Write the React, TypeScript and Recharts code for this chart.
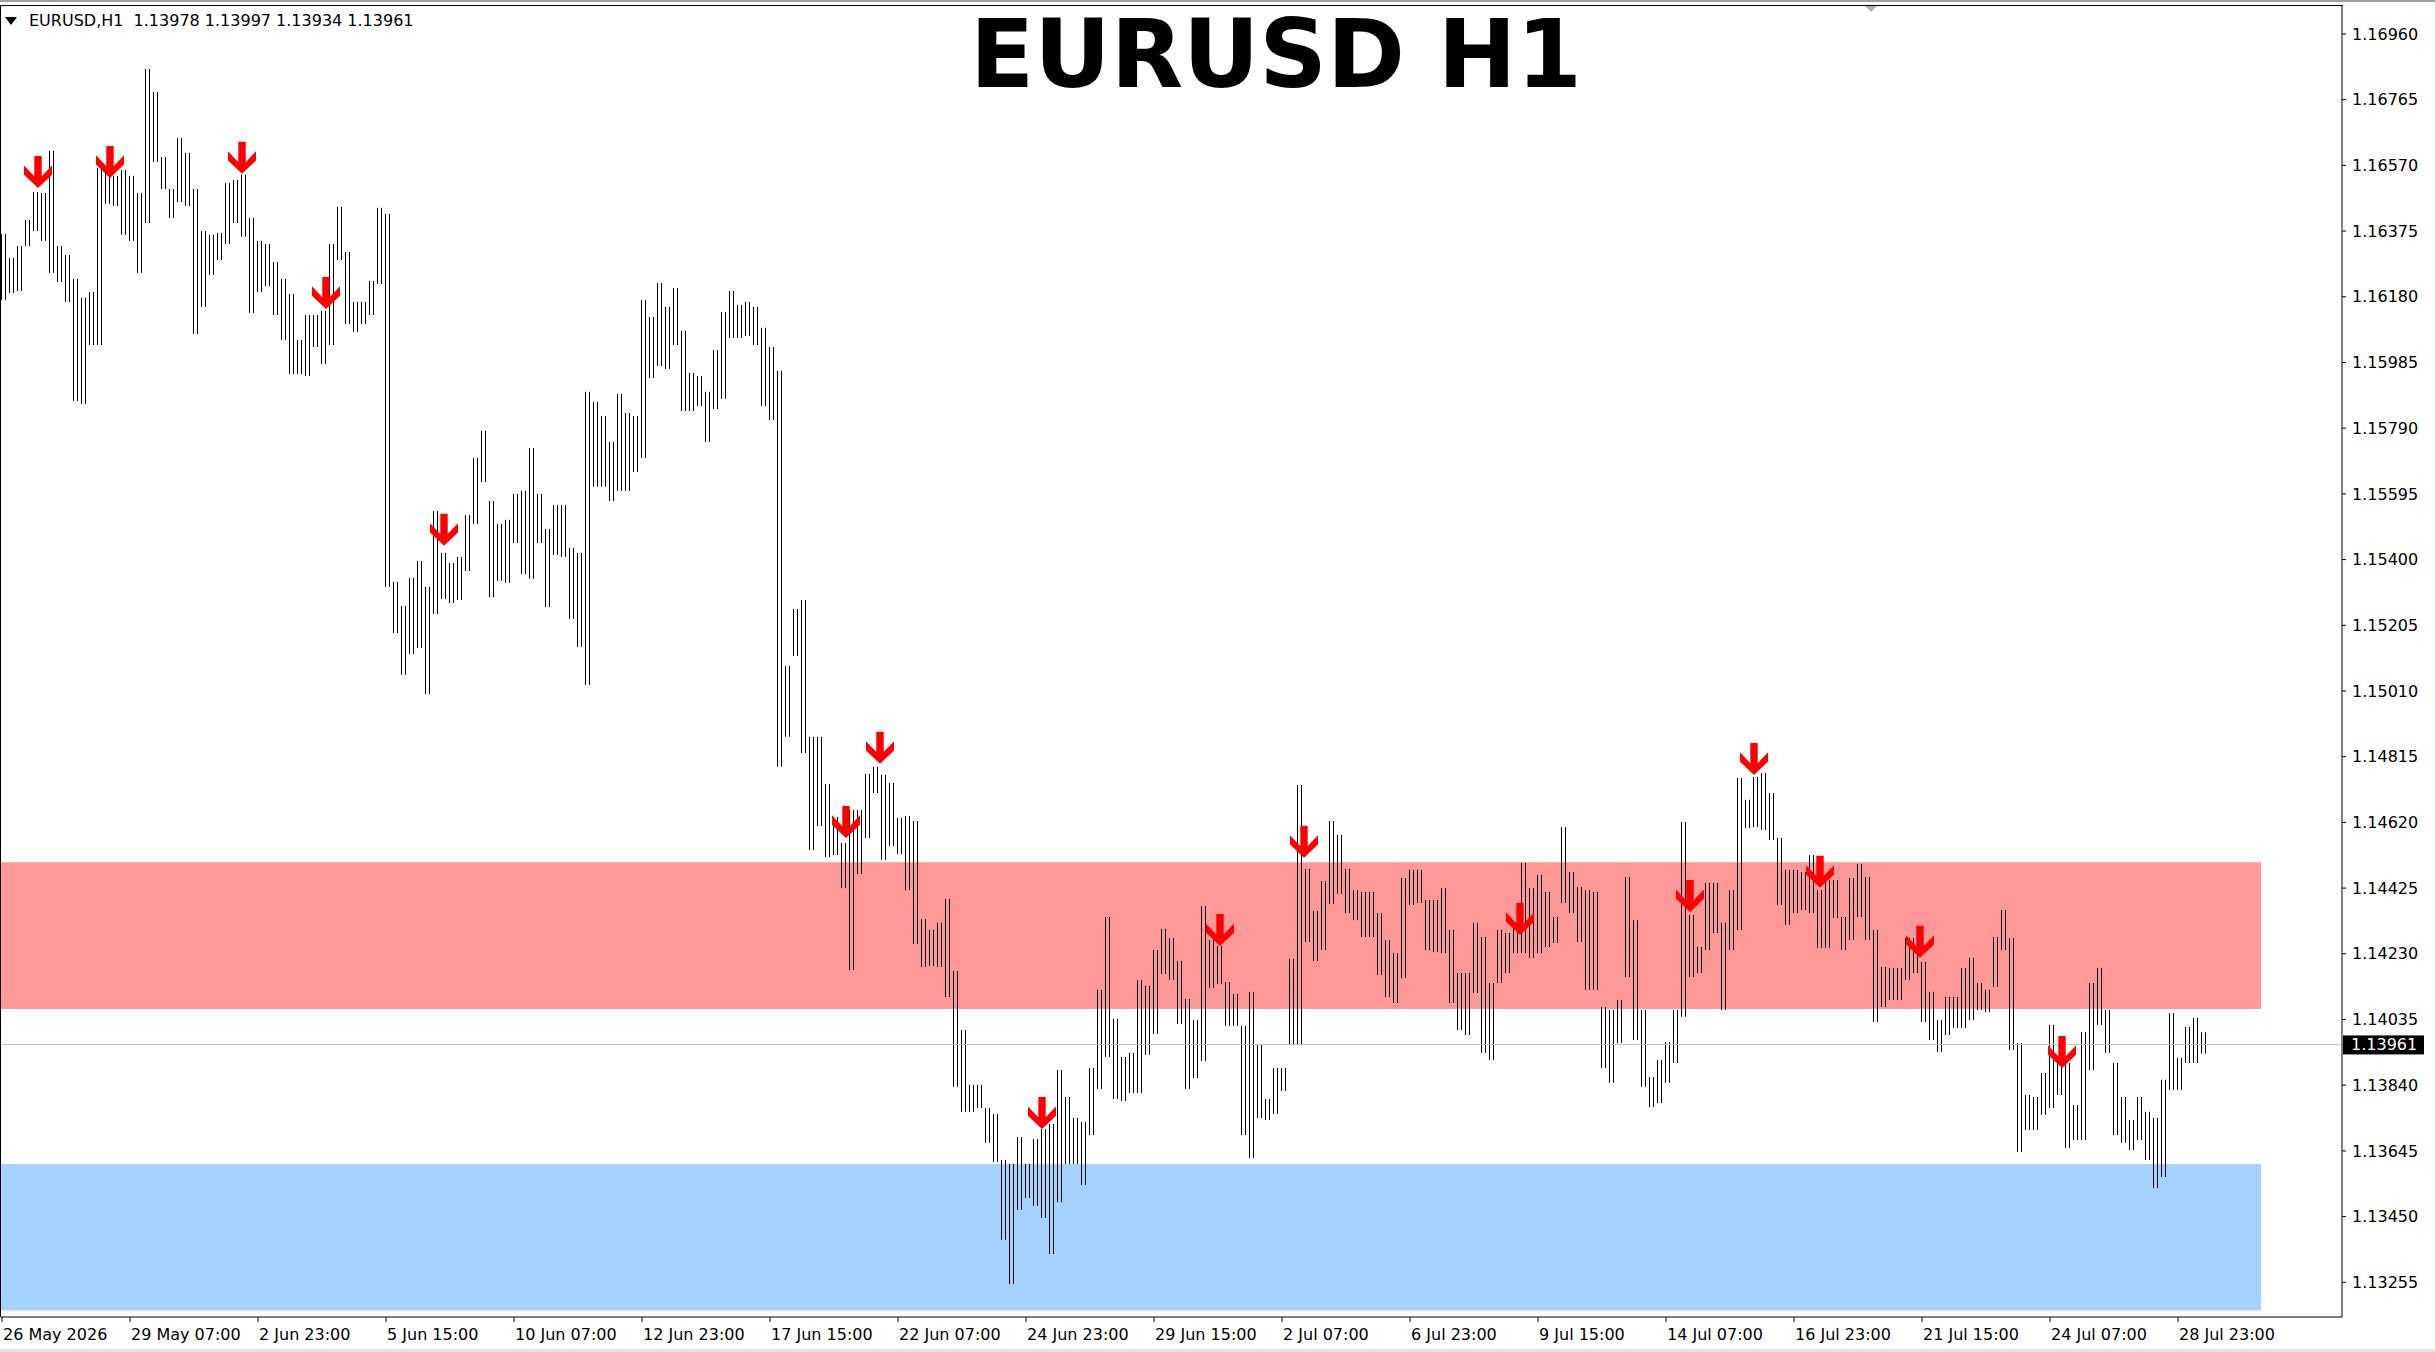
import React from 'react';
import { ComposedChart, Bar, Scatter, XAxis, YAxis, ReferenceArea, ReferenceLine } from 'recharts';

const highs = [
  1.16366, 1.16295, 1.16331, 1.16408, 1.16491, 1.16488, 1.16613, 1.16331, 1.16304, 1.16233,
  1.16177, 1.16194, 1.16562, 1.16556, 1.16539, 1.16556, 1.16539, 1.16488, 1.16856, 1.16788,
  1.16595, 1.16500, 1.16651, 1.16607, 1.16500, 1.16375, 1.16364, 1.16369, 1.16518, 1.16527,
  1.16542, 1.16414, 1.16346, 1.16337, 1.16283, 1.16233, 1.16188, 1.16052, 1.16126, 1.16126,
  1.16138, 1.16337, 1.16447, 1.16313, 1.16165, 1.16165, 1.16227, 1.16444, 1.16426, 1.15334,
  1.15262, 1.15345, 1.15396, 1.15319, 1.15544, 1.15420, 1.15390, 1.15408, 1.15532, 1.15702,
  1.15782, 1.15574, 1.15506, 1.15518, 1.15595, 1.15604, 1.15731, 1.15595, 1.15491, 1.15562,
  1.15562, 1.15435, 1.15420, 1.15898, 1.15868, 1.15826, 1.15749, 1.15892, 1.15835, 1.15826,
  1.16171, 1.16120, 1.16221, 1.16150, 1.16206, 1.16079, 1.15954, 1.15945, 1.15898, 1.16022,
  1.16135, 1.16197, 1.16156, 1.16165, 1.16150, 1.16088, 1.16031, 1.15960, 1.15084, 1.15253,
  1.15280, 1.14874, 1.14874, 1.14734, 1.14636, 1.14559, 1.14657, 1.14657, 1.14764, 1.14785,
  1.14761, 1.14737, 1.14633, 1.14639, 1.14624, 1.14333, 1.14301, 1.14322, 1.14393, 1.14179,
  1.14004, 1.13841, 1.13841, 1.13772, 1.13755, 1.13618, 1.13606, 1.13686, 1.13606, 1.13680,
  1.13710, 1.13725, 1.13885, 1.13805, 1.13743, 1.13731, 1.13891, 1.14123, 1.14339, 1.14037,
  1.13924, 1.13936, 1.14152, 1.14135, 1.14241, 1.14304, 1.14277, 1.14209, 1.14096, 1.14034,
  1.14372, 1.14271, 1.14253, 1.14146, 1.14111, 1.14016, 1.14117, 1.13959, 1.13799, 1.13891,
  1.13891, 1.14215, 1.14731, 1.14482, 1.14357, 1.14446, 1.14624, 1.14583, 1.14482, 1.14419,
  1.14414, 1.14414, 1.14351, 1.14271, 1.14232, 1.14455, 1.14479, 1.14479, 1.14390, 1.14390,
  1.14425, 1.14301, 1.14173, 1.14173, 1.14322, 1.14280, 1.14143, 1.14301, 1.14292, 1.14322,
  1.14500, 1.14425, 1.14464, 1.14414, 1.14339, 1.14606, 1.14473, 1.14428, 1.14419, 1.14414,
  1.14072, 1.14063, 1.14093, 1.14458, 1.14330, 1.14063, 1.13864, 1.13915, 1.13968, 1.14063,
  1.14621, 1.14345, 1.14250, 1.14440, 1.14440, 1.14322, 1.14419, 1.14752, 1.14687, 1.14755,
  1.14767, 1.14707, 1.14574, 1.14479, 1.14479, 1.14473, 1.14523, 1.14419, 1.14449, 1.14449,
  1.14339, 1.14455, 1.14497, 1.14458, 1.14301, 1.14191, 1.14188, 1.14188, 1.14277, 1.14277,
  1.14206, 1.14117, 1.14034, 1.14102, 1.14102, 1.14188, 1.14218, 1.14143, 1.14123, 1.14280,
  1.14360, 1.14277, 1.13965, 1.13811, 1.13805, 1.13876, 1.14019, 1.13909, 1.13906, 1.13781,
  1.13998, 1.14143, 1.14188, 1.14063, 1.13906, 1.13805, 1.13737, 1.13805, 1.13761, 1.13743,
  1.13856, 1.14054, 1.13921, 1.14013, 1.14040, 1.13997,
];

const lows = [
  1.16171, 1.16191, 1.16197, 1.16331, 1.16375, 1.16346, 1.16251, 1.16224, 1.16165, 1.15871,
  1.15862, 1.16037, 1.16037, 1.16456, 1.16450, 1.16364, 1.16346, 1.16251, 1.16399, 1.16580,
  1.16500, 1.16414, 1.16461, 1.16450, 1.16070, 1.16150, 1.16245, 1.16289, 1.16337, 1.16399,
  1.16358, 1.16132, 1.16194, 1.16212, 1.16126, 1.16052, 1.15951, 1.15951, 1.15945, 1.16031,
  1.15981, 1.16037, 1.16289, 1.16099, 1.16076, 1.16099, 1.16126, 1.16218, 1.15319, 1.15182,
  1.15058, 1.15120, 1.15138, 1.15001, 1.15239, 1.15283, 1.15271, 1.15280, 1.15366, 1.15506,
  1.15630, 1.15289, 1.15337, 1.15331, 1.15449, 1.15357, 1.15343, 1.15449, 1.15259, 1.15414,
  1.15408, 1.15224, 1.15141, 1.15028, 1.15616, 1.15616, 1.15574, 1.15604, 1.15604, 1.15660,
  1.15702, 1.15939, 1.15975, 1.15966, 1.16037, 1.15841, 1.15841, 1.15856, 1.15749, 1.15847,
  1.15877, 1.16058, 1.16058, 1.16064, 1.16037, 1.15856, 1.15814, 1.14785, 1.14874, 1.15114,
  1.14826, 1.14538, 1.14609, 1.14517, 1.14523, 1.14425, 1.14182, 1.14467, 1.14574, 1.14707,
  1.14509, 1.14550, 1.14526, 1.14419, 1.14259, 1.14191, 1.14194, 1.14191, 1.14102, 1.13835,
  1.13761, 1.13761, 1.13772, 1.13669, 1.13612, 1.13381, 1.13250, 1.13470, 1.13505, 1.13482,
  1.13446, 1.13339, 1.13493, 1.13606, 1.13606, 1.13544, 1.13692, 1.13829, 1.13924, 1.13799,
  1.13793, 1.13817, 1.13817, 1.13930, 1.13992, 1.14170, 1.14152, 1.14022, 1.13829, 1.13861,
  1.13912, 1.14129, 1.14140, 1.14016, 1.14016, 1.13692, 1.13624, 1.13743, 1.13737, 1.13755,
  1.13823, 1.13959, 1.13959, 1.14265, 1.14209, 1.14241, 1.14378, 1.14408, 1.14351, 1.14330,
  1.14280, 1.14280, 1.14167, 1.14102, 1.14084, 1.14158, 1.14375, 1.14381, 1.14241, 1.14235,
  1.14232, 1.14084, 1.14004, 1.13989, 1.14114, 1.13936, 1.13915, 1.14143, 1.14173, 1.14232,
  1.14232, 1.14218, 1.14232, 1.14250, 1.14262, 1.14381, 1.14351, 1.14265, 1.14123, 1.14123,
  1.13891, 1.13847, 1.13965, 1.14161, 1.13974, 1.13835, 1.13775, 1.13787, 1.13847, 1.13906,
  1.14043, 1.14161, 1.14173, 1.14241, 1.14292, 1.14063, 1.14241, 1.14301, 1.14603, 1.14606,
  1.14598, 1.14568, 1.14375, 1.14316, 1.14351, 1.14360, 1.14351, 1.14247, 1.14247, 1.14336,
  1.14241, 1.14271, 1.14339, 1.14271, 1.14028, 1.14072, 1.14093, 1.14093, 1.14152, 1.14173,
  1.14028, 1.13974, 1.13939, 1.13989, 1.14010, 1.14010, 1.14034, 1.14063, 1.14057, 1.14132,
  1.14241, 1.13945, 1.13642, 1.13707, 1.13707, 1.13752, 1.13772, 1.13811, 1.13654, 1.13677,
  1.13677, 1.13885, 1.14019, 1.13936, 1.13692, 1.13669, 1.13648, 1.13677, 1.13618, 1.13535,
  1.13568, 1.13826, 1.13826, 1.13906, 1.13906, 1.13934,
];

// Sell arrows: bar hour index and the high they sit above
const arrowHours = [18, 54, 120, 162, 221, 439, 422, 520, 609, 651, 759, 844, 876, 909, 959, 1030];
const arrowPrices = [1.16491, 1.16521, 1.16533, 1.16132, 1.15429, 1.14782, 1.14562, 1.13698,
  1.14241, 1.14503, 1.14274, 1.14342, 1.14749, 1.14414, 1.14206, 1.13879];

const timeLabels = ['26 May 2026', '29 May 07:00', '2 Jun 23:00', '5 Jun 15:00', '10 Jun 07:00',
  '12 Jun 23:00', '17 Jun 15:00', '22 Jun 07:00', '24 Jun 23:00', '29 Jun 15:00', '2 Jul 07:00',
  '6 Jul 23:00', '9 Jul 15:00', '14 Jul 07:00', '16 Jul 23:00', '21 Jul 15:00', '24 Jul 07:00',
  '28 Jul 23:00'];
const timeTickHours = [0, 64, 128, 192, 256, 320, 384, 448, 512, 576, 640, 704, 768, 832, 896, 960, 1024, 1088];

const priceTicks = [1.1696, 1.16765, 1.1657, 1.16375, 1.1618, 1.15985, 1.1579, 1.15595, 1.154,
  1.15205, 1.1501, 1.14815, 1.1462, 1.14425, 1.1423, 1.14035, 1.1384, 1.13645, 1.1345, 1.13255];

const ohlc = { open: 1.13978, high: 1.13997, low: 1.13934, close: 1.13961 };
const resistanceZone = [1.14066, 1.14502];
const supportZone = [1.13171, 1.13606];
const zoneEndHour = 1129.5;

const candles = highs.map((h, i) => ({ x: i * 4 + 1, range: [lows[i], h] }));
const arrows = arrowHours.map((hr, i) => ({ x: hr, y: arrowPrices[i] }));

const FONT = 'DejaVu Sans';

const XTick = (props: any) => {
  const { x, y, payload } = props;
  const idx = timeTickHours.indexOf(payload.value);
  return (
    <text x={x + 1} y={y} dy="0.71em" textAnchor="start" fontSize={16} fontFamily={FONT} fill="#000">
      {timeLabels[idx]}
    </text>
  );
};

// one sampled range drawn as thin hairline bars, like the terminal's bar chart
const HairBars = (props: any) => {
  const { x, y, width, height } = props;
  if (x == null || y == null) return null;
  const c = Math.round(x + width / 2);
  const h = Math.max(1, height);
  return (
    <g>
      {[-3, 1].map((dx) => (
        <rect key={dx} x={c + dx} y={y} width={1} height={h} fill="#000" />
      ))}
    </g>
  );
};

const ArrowShape = (props: any) => {
  const { cx, cy } = props;
  if (cx == null || cy == null) return null;
  const t = cy - 4;
  const pts = [
    [-3.7, -32], [3.7, -32], [3.7, -11.7], [14, -22.6], [14, -13.3], [0, 0],
    [-14, -13.3], [-14, -22.6], [-3.7, -11.7],
  ].map(([dx, dy]) => `${cx + dx},${t + dy}`).join(' ');
  return <polygon points={pts} fill="#ff0000" />;
};

const PriceTag = (props: any) => {
  const vb = props.viewBox || {};
  const x0 = (vb.x || 0) + (vb.width || 0) + 1;
  const y0 = vb.y || 0;
  return (
    <g>
      <rect x={x0} y={y0 - 9} width={81} height={19} fill="#000" />
      <text x={x0 + 8} y={y0} dy="0.355em" fontSize={16} fontFamily={FONT} fill="#fff">
        {ohlc.close.toFixed(5)}
      </text>
    </g>
  );
};

export default function App() {
  return (
    <div style={{ position: 'absolute', left: 0, top: 0, width: 2435, height: 1352, background: '#fff', overflow: 'hidden' }}>
      <div style={{ position: 'absolute', left: 0, top: 0, width: 2435, height: 2, background: '#a0a0a0' }} />
      <div style={{ position: 'absolute', left: 0, top: 1349, width: 2435, height: 3, background: '#e4e4e4' }} />
      <div style={{ position: 'absolute', left: 0, top: 0 }}>
        <ComposedChart width={2435} height={1352} data={candles} margin={{ top: 6, right: 0, bottom: 0, left: 1 }}>
          <XAxis
            type="number"
            dataKey="x"
            domain={[-0.5, 1170]}
            allowDataOverflow
            ticks={timeTickHours}
            interval={0}
            tick={<XTick />}
            tickSize={5}
            tickMargin={7}
            height={35}
            axisLine={{ stroke: '#000' }}
            tickLine={{ stroke: '#000' }}
          />
          <YAxis
            orientation="right"
            type="number"
            domain={[1.13152, 1.17043]}
            allowDataOverflow
            ticks={priceTicks}
            interval={0}
            tickFormatter={(v: number) => v.toFixed(5)}
            tick={{ fontSize: 16, fontFamily: FONT, fill: '#000' }}
            tickSize={4}
            tickMargin={6}
            width={93}
            axisLine={{ stroke: '#000' }}
            tickLine={{ stroke: '#000' }}
          />
          <ReferenceArea x1={-0.5} x2={zoneEndHour} y1={resistanceZone[0]} y2={resistanceZone[1]}
            fill="#ff9999" fillOpacity={1} stroke="none" ifOverflow="hidden" />
          <ReferenceArea x1={-0.5} x2={zoneEndHour} y1={supportZone[0]} y2={supportZone[1]}
            fill="#a6d2ff" fillOpacity={1} stroke="none" ifOverflow="hidden" />
          <ReferenceLine y={ohlc.close} stroke="#c0c0c0" strokeWidth={1} label={<PriceTag />} />
          <Bar dataKey="range" barSize={8} fill="#000" shape={<HairBars />} isAnimationActive={false} />
          <Scatter data={arrows} dataKey="y" shape={<ArrowShape />} isAnimationActive={false} />
        </ComposedChart>
      </div>
      <div style={{ position: 'absolute', left: 0, top: 5, width: 2343, height: 1, background: '#000' }} />
      <div style={{ position: 'absolute', left: 0, top: 5, width: 1, height: 1312, background: '#000' }} />
      <div style={{ position: 'absolute', left: 1865, top: 6, width: 0, height: 0, borderLeft: '6px solid transparent', borderRight: '6px solid transparent', borderTop: '6px solid #b0b0b0' }} />
      <div style={{ position: 'absolute', left: 5, top: 17, width: 0, height: 0, borderLeft: '6px solid transparent', borderRight: '6px solid transparent', borderTop: '8px solid #000' }} />
      <div style={{ position: 'absolute', left: 29, top: 11, fontFamily: FONT, fontSize: 16, lineHeight: '20px', color: '#000', whiteSpace: 'pre' }}>
        {`EURUSD,H1  ${ohlc.open.toFixed(5)} ${ohlc.high.toFixed(5)} ${ohlc.low.toFixed(5)} ${ohlc.close.toFixed(5)}`}
      </div>
      <div style={{ position: 'absolute', left: 776, width: 1000, top: 8, textAlign: 'center', fontFamily: FONT, fontWeight: 'bold', fontSize: 94, lineHeight: '94px', color: '#000' }}>
        EURUSD H1
      </div>
    </div>
  );
}
